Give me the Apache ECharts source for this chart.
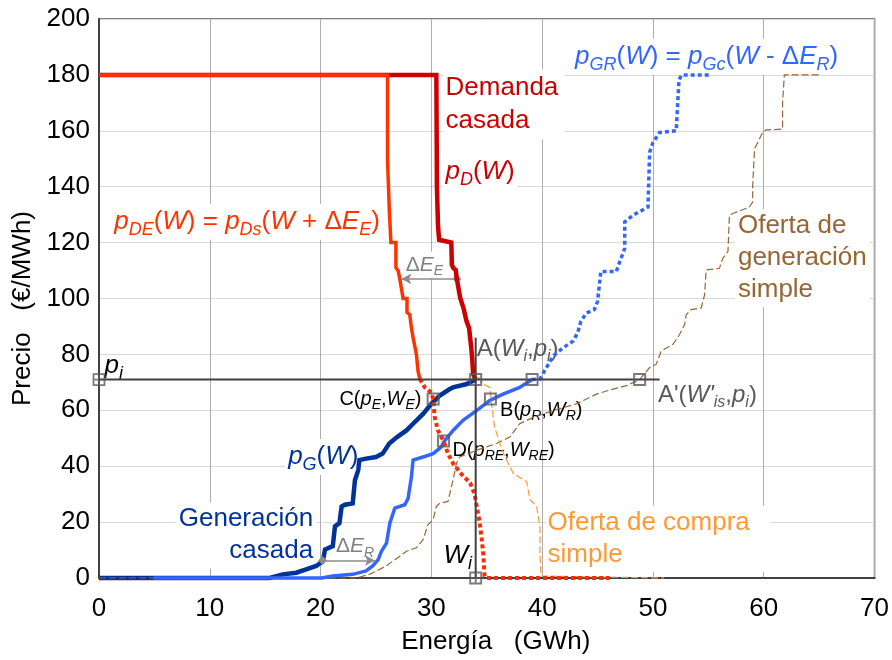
<!DOCTYPE html>
<html>
<head>
<meta charset="utf-8">
<script src="https://cdn.jsdelivr.net/npm/echarts@6/dist/echarts.min.js"></script>
<style>html,body{margin:0;padding:0;background:#fff}#c{width:892px;height:660px}</style>
</head>
<body>
<div id="c"></div>
<script>
// ---------- DATA (Energía GWh, Precio €/MWh) ----------
const xTicks = [0, 10, 20, 30, 40, 50, 60, 70];
const yTicks = [0, 20, 40, 60, 80, 100, 120, 140, 160, 180, 200];

const demandaCasada = [[0,180],[30.45,180],[30.5,140],[30.6,126],[30.7,121],[31.8,120],[31.85,112],[32.0,110.8],[32.2,110.2],[32.3,107],[32.6,100.2],[32.9,96.6],[33.0,94.8],[33.17,91.9],[33.4,89.5],[33.5,86],[33.6,82.4],[33.7,77.7],[33.77,72.9],[34,71]];

const demandaE = [[0,180],[26.04,180],[26.04,150],[26.2,150],[26.2,132],[26.3,132],[26.35,120],[26.8,120],[26.8,111],[27.0,110],[27.15,107],[27.3,106.7],[27.45,100],[27.8,100],[27.8,95],[28.05,94.2],[28.2,89.5],[28.35,86],[28.65,80],[28.8,74],[28.96,71.2]];
const demandaEDotted = [[28.96,71.2],[29.4,68.2],[30.0,66.4],[30.16,64],[30.3,57.5],[30.6,52.8],[31.1,49],[31.5,44.5],[31.96,41],[32.7,37.2],[33.5,34],[33.9,30],[34.1,25.6],[34.37,19.6],[34.55,13.7],[34.7,7.8],[34.8,0.7],[35.0,0],[46.1,0]];

const generacionCasada = [[0,0],[15.4,0],[15.4,0.7],[16.6,1.3],[17.8,1.9],[18.7,3.1],[19.6,4.3],[20.2,6.0],[20.4,10.2],[21.1,11.4],[21.3,18.5],[21.7,19.6],[21.9,25.6],[22.2,26.2],[22.9,26.7],[23.1,35],[23.4,38.6],[23.5,42.2],[24.1,42.7],[25.0,43.3],[25.6,44.5],[26.2,48.1],[26.9,50.4],[27.75,52.8],[28.35,55.2],[29.25,58.7],[30.0,62.3],[30.76,65.3],[31.66,67.6],[31.96,68.2],[33.2,69.4],[34,71]];

const generacionR = [[4.9,0],[20.1,0],[21.1,0.7],[22.9,1.3],[24.1,2.5],[24.7,4.3],[25.2,6.6],[25.5,9.6],[25.95,12.5],[26.25,19.6],[26.7,25],[27.6,26.2],[27.9,28.5],[28.2,36.2],[28.35,42.2],[29.25,43.3],[30.16,44.5],[30.9,46.9],[31.1,48.6],[31.96,52.8],[32.86,56.4],[34.07,59.9],[35.27,63.5],[36.47,65.8],[37.97,68.2],[39.09,71]];
const generacionRDotted = [[39.09,71],[39.8,71.2],[41.0,79.5],[41.9,82.4],[42.8,84.8],[43.2,87.7],[43.5,91.9],[44.0,94.8],[44.7,96],[45.0,99],[45.3,109.7],[46.7,109.7],[47.0,113.2],[47.45,117.9],[47.45,127.4],[48.2,129.8],[49.55,132.7],[49.7,152.3],[50.0,155.8],[50.6,159.4],[52.1,160],[52.35,178.3],[52.6,180],[55.1,180]];

const ofertaGeneracion = [[0,0],[23.2,0],[23.2,0.7],[24.4,1.3],[25.05,2.5],[25.9,4.3],[27.15,7.8],[27.75,9.6],[28.65,10.8],[29.25,13.7],[29.7,19.1],[30.16,20.9],[30.45,25.6],[30.76,26.7],[31.5,27.4],[31.96,35.1],[32.26,41],[32.56,43.3],[34.07,45.7],[35.87,48.1],[37.07,50.4],[37.97,55.2],[39.2,57.5],[40.98,59.9],[43.1,62.3],[44.9,65.8],[46.4,67.6],[47.6,68.8],[48.8,71],[49.7,75.3],[50.3,76.5],[50.75,81.2],[51.8,83.6],[52.4,87.1],[52.86,90.7],[53.0,94.2],[53.45,96.0],[54.36,96.6],[54.66,101.3],[54.8,110.2],[56.0,110.8],[56.3,114.4],[56.77,116.8],[56.9,129.8],[57.2,130.4],[58.7,132.7],[59.0,134.5],[59.0,140.4],[59.17,153.5],[59.9,159.4],[60.2,160.3],[61.7,160.6],[61.7,170],[61.86,180],[65.0,180]];

const ofertaCompra = [[34.2,72],[34.67,69.4],[35.27,68.2],[35.4,63.5],[35.7,54],[36.5,44.5],[37.4,37.4],[38.6,34.5],[38.9,28],[39.5,25.6],[39.8,18.5],[39.8,9],[39.9,0.7],[40.0,0],[51,0]];

const precioI = 71;      // p_i
const energiaI = 34;     // W_i
const horizLine = [[0,71],[50.6,71]];
const vertLine = [[34,0],[34,86]];
const crossMarkers = [[0,71],[34,0]];
const squareMarkers = [[34,71],[39.09,71],[48.8,71],[35.33,64],[30.16,64],[31.1,49]];
const arrowE = [[32.3,107],[27.3,107]];
const arrowR = [[20.18,6.3],[24.9,6.3]];

// ---------- STYLE / OPTIONS ----------
const FONT = '"Liberation Sans", Arial, sans-serif';
function rich(color, size) {
  const sz = Math.round(size * 0.68);
  const pad = Math.round(size * 0.62);
  return {
    n: {color: color, fontSize: size, fontFamily: FONT, opacity: 1},
    i: {color: color, fontSize: size, fontFamily: FONT, fontStyle: 'italic', opacity: 1},
    s: {color: color, fontSize: sz, fontFamily: FONT, fontStyle: 'italic', padding: [pad, 0, 0, 0], opacity: 1}
  };
}
function ann(pos, text, color, size, opts) {
  opts = opts || {};
  const lab = {
    show: true, position: opts.left ? 'left' : 'right', distance: 0,
    formatter: text, color: color, fontSize: size, fontFamily: FONT, opacity: 1,
    lineHeight: opts.lineHeight || undefined,
    rich: rich(color, size)
  };
  if (opts.bg) { lab.backgroundColor = '#fff'; lab.padding = opts.padding || [1, 3, 1, 3]; }
  return {value: pos, label: lab};
}

const chart = echarts.init(document.getElementById('c'), null, {renderer: 'canvas'});

function line(data, color, width, type, z) {
  return {type: 'line', data: data, showSymbol: false, symbol: 'none', clip: false, z: z,
    lineStyle: {color: color, width: width, type: type || 'solid', cap: 'butt', join: 'miter'},
    animation: false, silent: true};
}
function arrowSeries(pts, z) {
  return {type: 'line', data: [], z: z, animation: false, silent: true,
    markLine: {silent: true, animation: false, precision: 3,
      lineStyle: {color: '#8c8c8c', width: 1.5, type: 'solid'},
      label: {show: false},
      data: [[{coord: pts[0], symbol: 'diamond', symbolSize: 9}, {coord: pts[1], symbol: 'arrow', symbolSize: [8, 10]}]]}};
}

const annotations = [
  ann([31.1, 169.4], 'Demanda\ncasada', '#CC0000', 26, {bg: true, lineHeight: 33, padding: [2, 6, 2, 2]}),
  ann([31.0, 145.3], '{i|p}{s|D}{n|(}{i|W}{n|)}', '#CC0000', 26, {bg: true}),
  ann([1.1, 127.5], '{i|p}{s|DE}{n|(}{i|W}{n|) = }{i|p}{s|Ds}{n|(}{i|W}{n| + Δ}{i|E}{s|E}{n|)}', '#FF3300', 26, {bg: true}),
  ann([42.7, 186.5], '{i|p}{s|GR}{n|(}{i|W}{n|) = }{i|p}{s|Gc}{n|(}{i|W}{n| - Δ}{i|E}{s|R}{n|)}', '#3366FF', 26, {bg: true}),
  ann([57.4, 114.4], 'Oferta de\ngeneración\nsimple', '#996633', 26, {bg: true, lineHeight: 32}),
  ann([40.3, 14.0], 'Oferta de compra\nsimple', '#FF9933', 26, {bg: true, lineHeight: 32, padding: [1, 20, 1, 2]}),
  ann([19.6, 15.3], 'Generación\ncasada', '#003399', 26, {bg: true, left: true, lineHeight: 32}),
  ann([16.8, 43.3], '{i|p}{s|G}{n|(}{i|W}{n|)}', '#003399', 26, {bg: true}),
  ann([0.5, 76], '{i|p}{s|i}', '#000000', 26, {}),
  ann([31.1, 7.8], '{i|W}{s|i}', '#000000', 26, {}),
  ann([34.1, 81.8], '{n|A(}{i|W}{s|i}{n|,}{i|p}{s|i}{n|)}', '#595959', 24, {}),
  ann([50.45, 65.4], "{n|A'(}{i|W'}{s|is}{n|,}{i|p}{s|i}{n|)}", '#595959', 24, {}),
  ann([36.2, 59.9], '{n|B(}{i|p}{s|R}{n|,}{i|W}{s|R}{n|)}', '#000000', 20, {}),
  ann([29.1, 64.0], '{n|C(}{i|p}{s|E}{n|,}{i|W}{s|E}{n|)}', '#000000', 20, {left: true}),
  ann([31.9, 45.7], '{n|D(}{i|p}{s|RE}{n|,}{i|W}{s|RE}{n|)}', '#000000', 20, {}),
  ann([27.6, 112], '{n|Δ}{i|E}{s|E}', '#808080', 21, {bg: true, padding: [0, 1, 0, 1]}),
  ann([21.3, 11.4], '{n|Δ}{i|E}{s|R}', '#808080', 21, {bg: true, padding: [0, 1, 0, 1]})
];

const option = {
  backgroundColor: '#ffffff',
  animation: false,
  grid: {left: 99, right: 17, top: 19, bottom: 78, show: true, borderColor: '#595959', borderWidth: 1.5, backgroundColor: 'transparent'},
  xAxis: {
    type: 'value', min: xTicks[0], max: xTicks[xTicks.length - 1], interval: 10,
    name: 'Energía   (GWh)', nameLocation: 'middle', nameGap: 51,
    nameTextStyle: {fontSize: 26, fontFamily: FONT, color: '#000', padding: [0, 0, 0, 18]},
    axisLine: {show: true, lineStyle: {color: '#404040', width: 2}},
    axisTick: {show: false},
    axisLabel: {fontSize: 26, fontFamily: FONT, color: '#000', margin: 18},
    splitLine: {show: true, lineStyle: {color: '#ADADAD', width: 1}}
  },
  yAxis: {
    type: 'value', min: yTicks[0], max: yTicks[yTicks.length - 1], interval: 20,
    name: 'Precio   (€/MWh)', nameLocation: 'middle', nameGap: 62,
    nameTextStyle: {fontSize: 26, fontFamily: FONT, color: '#000', padding: [0, 20, 0, 0]},
    axisLine: {show: true, lineStyle: {color: '#404040', width: 2}},
    axisTick: {show: false},
    axisLabel: {fontSize: 26, fontFamily: FONT, color: '#000', margin: 9},
    splitLine: {show: true, lineStyle: {color: '#D9D9D9', width: 1}}
  },
  series: [
    {type: 'scatter', data: annotations, symbol: 'circle', symbolSize: 0, z: 1, clip: false, silent: true,
      itemStyle: {color: '#ffffff', opacity: 1}},
    line(generacionCasada, '#003399', 4.5, 'solid', 2),
    line(ofertaGeneracion, '#996633', 1.2, [7, 3], 3),
    line(generacionR, '#3366FF', 3.5, 'solid', 4),
    line(generacionRDotted, '#3366FF', 3.5, [4, 3], 4),
    line(ofertaCompra, '#FF9933', 1.2, [7, 3], 5),
    line(demandaCasada, '#CC0000', 4.5, 'solid', 6),
    line(demandaE, '#FF3300', 3.5, 'solid', 7),
    line(demandaEDotted, '#FF2A00', 4, [4, 3], 7),
    line(horizLine, '#404040', 2, 'solid', 8),
    line(vertLine, '#404040', 2, 'solid', 8),
    arrowSeries(arrowE, 9),
    arrowSeries(arrowR, 9),
    {type: 'scatter', data: squareMarkers, symbol: 'rect', symbolSize: 11, z: 10, clip: false, silent: true,
      itemStyle: {color: 'rgba(255,255,255,0)', borderColor: '#595959', borderWidth: 2}},
    {type: 'scatter', data: crossMarkers, symbol: 'path://M0,0L10,0L10,10L0,10Z M5,0L5,10 M0,5L10,5', symbolSize: 11, z: 10, clip: false, silent: true,
      itemStyle: {color: 'rgba(255,255,255,0)', borderColor: '#595959', borderWidth: 1.8}}
  ]
};
chart.setOption(option);
</script>
</body>
</html>
